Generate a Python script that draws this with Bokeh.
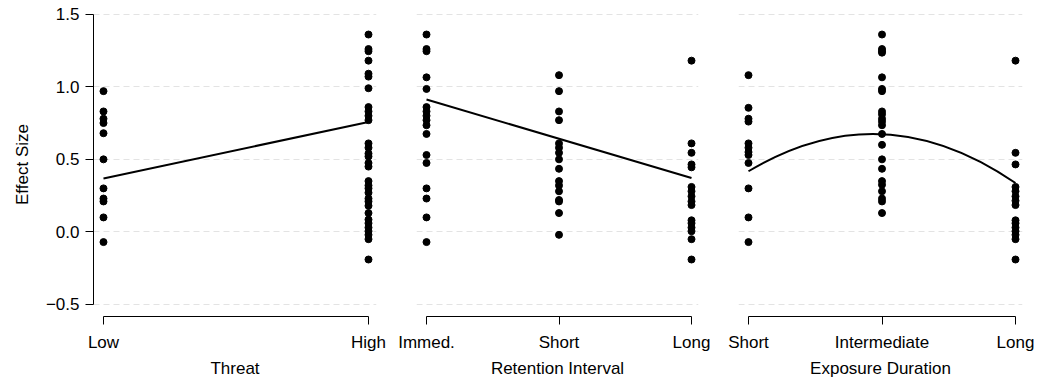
from bokeh.plotting import figure
from bokeh.layouts import row
from bokeh.models import ColumnDataSource, FixedTicker, Range1d
from bokeh.embed import file_html
from bokeh.resources import INLINE

# ---------------- data ----------------
threat_levels = ["Low", "High"]
threat_low = [0.97, 0.83, 0.78, 0.75, 0.68, 0.50, 0.30, 0.23, 0.21, 0.10, -0.07]
threat_high = [1.36, 1.26, 1.245, 1.18, 1.09, 1.07, 0.99, 0.86, 0.83, 0.80, 0.77,
               0.61, 0.58, 0.54, 0.52, 0.475, 0.45, 0.35, 0.32, 0.30, 0.27, 0.23,
               0.21, 0.18, 0.13, 0.085, 0.06, 0.03, 0.005, -0.02, -0.05, -0.19]
threat_fit = [0.368, 0.758]          # fitted values at Low, High

retention_levels = ["Immed.", "Short", "Long"]
retention_immed = [1.36, 1.26, 1.245, 1.065, 0.985, 0.86, 0.83, 0.80, 0.77, 0.735,
                   0.675, 0.53, 0.475, 0.30, 0.23, 0.10, -0.07]
retention_short = [1.08, 0.97, 0.83, 0.77, 0.61, 0.58, 0.545, 0.50, 0.435, 0.35,
                   0.32, 0.28, 0.22, 0.21, 0.13, -0.02]
retention_long = [1.18, 0.61, 0.545, 0.465, 0.445, 0.31, 0.28, 0.245, 0.21, 0.185,
                  0.08, 0.06, 0.03, 0.005, -0.05, -0.19]
retention_fit = [0.912, 0.372]       # fitted values at Immed., Long

exposure_levels = ["Short", "Intermediate", "Long"]
exposure_short = [1.08, 0.855, 0.78, 0.76, 0.61, 0.58, 0.55, 0.53, 0.475, 0.30, 0.10, -0.07]
exposure_inter = [1.36, 1.26, 1.245, 1.235, 1.065, 0.985, 0.97, 0.83, 0.81, 0.78, 0.76,
                  0.735, 0.675, 0.60, 0.50, 0.435, 0.35, 0.325, 0.28, 0.23, 0.21, 0.13]
exposure_long = [1.18, 0.545, 0.465, 0.31, 0.28, 0.245, 0.215, 0.185, 0.08, 0.06,
                 0.03, 0.005, -0.02, -0.05, -0.19]
exposure_fit = [0.418, 0.674, 0.337]  # quadratic fit values at Short, Intermediate, Long

y_ticks = [-0.5, 0.0, 0.5, 1.0, 1.5]
y_tick_labels = ["\u22120.5", "0.0", "0.5", "1.0", "1.5"]
y_title = "Effect Size"
x_titles = ["Threat", "Retention Interval", "Exposure Duration"]

# ---------------- styling ----------------
FONT = "Liberation Sans"
FS = "17px"
Y_RANGE = (-0.5827, 1.5117)
FRAME_H = 304
TOP = 12
BOTTOM = 66


def make_panel(levels, groups, title, xr, frame_w, left, right, show_y):
    p = figure(frame_width=frame_w, frame_height=FRAME_H,
               x_range=Range1d(*xr), y_range=Range1d(*Y_RANGE),
               output_backend="svg", toolbar_location=None,
               y_axis_location="left" if show_y else None,
               min_border_left=left, min_border_right=right,
               min_border_top=TOP, min_border_bottom=BOTTOM)
    p.outline_line_color = None
    p.background_fill_color = "white"
    p.border_fill_color = "white"

    # grid
    p.xgrid.visible = False
    p.ygrid.ticker = FixedTicker(ticks=y_ticks)
    p.ygrid.grid_line_color = "#e3e3e3"
    p.ygrid.grid_line_dash = "6 4"
    p.ygrid.grid_line_width = 1

    # x axis
    xa = p.xaxis[0]
    xa.ticker = FixedTicker(ticks=list(range(len(levels))))
    xa.major_label_overrides = {i: lab for i, lab in enumerate(levels)}
    xa.bounds = (0, len(levels) - 1)
    xa.major_tick_out = 8
    xa.major_tick_in = 0
    xa.minor_tick_out = 0
    xa.minor_tick_in = 0
    xa.axis_line_color = "black"
    xa.major_tick_line_color = "black"
    xa.major_label_text_font = FONT
    xa.major_label_text_font_size = FS
    xa.major_label_text_color = "black"
    xa.major_label_standoff = 8
    xa.axis_label = title
    xa.axis_label_text_font = FONT
    xa.axis_label_text_font_size = FS
    xa.axis_label_text_font_style = "normal"
    xa.axis_label_text_color = "black"
    xa.axis_label_standoff = 4

    if show_y:
        ya = p.yaxis[0]
        ya.ticker = FixedTicker(ticks=y_ticks)
        ya.major_label_overrides = {t: lab for t, lab in zip(y_ticks, y_tick_labels)}
        ya.bounds = (y_ticks[0], y_ticks[-1])
        ya.major_tick_out = 8
        ya.major_tick_in = 0
        ya.minor_tick_out = 0
        ya.minor_tick_in = 0
        ya.axis_line_color = "black"
        ya.major_tick_line_color = "black"
        ya.major_label_text_font = FONT
        ya.major_label_text_font_size = FS
        ya.major_label_text_color = "black"
        ya.major_label_standoff = 6
        ya.axis_label = y_title
        ya.axis_label_text_font = FONT
        ya.axis_label_text_font_size = FS
        ya.axis_label_text_font_style = "normal"
        ya.axis_label_text_color = "black"
        ya.axis_label_standoff = 11

    xs, ys = [], []
    for i, vals in enumerate(groups):
        xs += [i] * len(vals)
        ys += list(vals)
    src = ColumnDataSource(dict(x=xs, y=ys))
    p.scatter("x", "y", source=src, size=7, color="black")
    return p


p1 = make_panel(threat_levels, [threat_low, threat_high], x_titles[0],
                (-0.0377, 1.0302), 283, 93, 20, True)
p1.line(x=[0, 1], y=threat_fit, line_color="black", line_width=2)

p2 = make_panel(retention_levels, [retention_immed, retention_short, retention_long],
                x_titles[1], (-0.0755, 2.0528), 282, 20, 20, False)
p2.line(x=[0, 2], y=retention_fit, line_color="black", line_width=2)

p3 = make_panel(exposure_levels, [exposure_short, exposure_inter, exposure_long],
                x_titles[2], (-0.0749, 2.0524), 284, 20, 18, False)
# quadratic fit drawn as a quadratic Bezier passing through the three fitted values
y0, ym, y2 = exposure_fit
quad = ColumnDataSource(dict(x0=[0], y0=[y0], x1=[2], y1=[y2],
                             cx=[1], cy=[2 * ym - 0.5 * (y0 + y2)]))
p3.quadratic(x0="x0", y0="y0", x1="x1", y1="y1", cx="cx", cy="cy",
             source=quad, line_color="black", line_width=2)

layout = row(p1, p2, p3)
open("out.html", "w").write(file_html(layout, INLINE))
